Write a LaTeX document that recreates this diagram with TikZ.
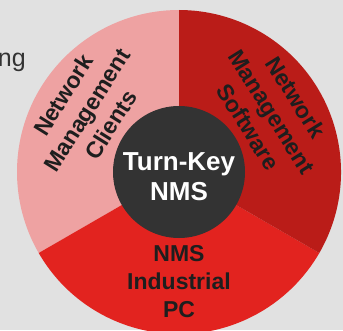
\documentclass[tikz,border=0pt]{standalone}
\usepackage{fontspec}
\setmainfont{Liberation Sans}

\definecolor{pagebg}{HTML}{E1E1E1}
\definecolor{segpink}{HTML}{EEA2A2}
\definecolor{segdark}{HTML}{BA1C18}
\definecolor{segred}{HTML}{E2231F}
\definecolor{hubgray}{HTML}{333333}
\definecolor{labelink}{HTML}{1E1E1E}

\begin{document}
\begin{tikzpicture}[x=1pt, y=1pt,
  seglabel/.style={font=\bfseries\fontsize{23}{28}\selectfont, text=labelink, align=center, inner sep=0pt},
  hublabel/.style={font=\bfseries\fontsize{26}{30}\selectfont, text=white, align=center, inner sep=0pt}]

\fill[pagebg] (0,0) rectangle (343,330);
\useasboundingbox (0,0) rectangle (343,330);
\clip (0,0) rectangle (343,330);

\coordinate (hub) at (179,158);

% three segments
\fill[segpink] (hub) -- ++(90:162) arc[start angle=90, end angle=210, radius=162] -- cycle;
\fill[segred]  (hub) -- ++(210:162) arc[start angle=210, end angle=330, radius=162] -- cycle;
\fill[segdark] (hub) -- ++(-30:162) arc[start angle=-30, end angle=90, radius=162] -- cycle;

% hub
\fill[hubgray] (hub) circle[radius=66];
\node[hublabel] (core) at (179,153) {Turn-Key\\NMS};

% segment labels
\node[seglabel, rotate=58]  (clients)  at (87,220)  {Network\\Management\\Clients};
\node[seglabel, rotate=-58] (software) at (272,218) {Network\\Management\\Software};
\node[seglabel]             (ipc)      at (179,48)  {NMS\\Industrial\\PC};

% cut-off heading
\node[font=\fontsize{25}{30}\selectfont, text=hubgray, anchor=base east, inner sep=0pt] (heading) at (26,263) {ng};

\end{tikzpicture}
\end{document}
